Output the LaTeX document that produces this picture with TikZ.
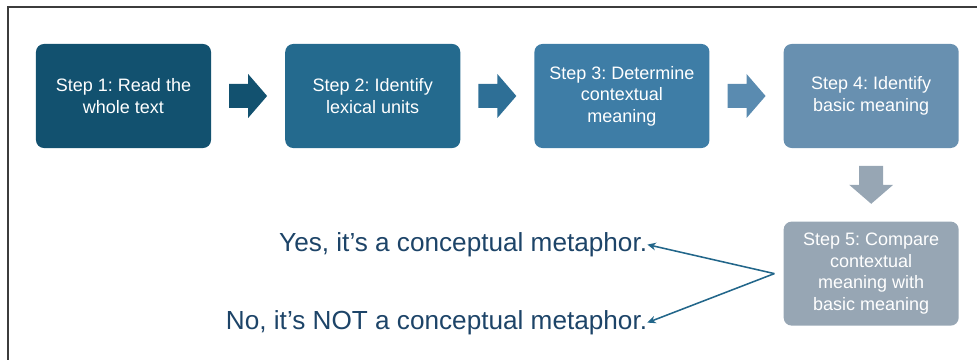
\documentclass[tikz,border=0pt]{standalone}
\usepackage{fontspec}
\setmainfont{Liberation Sans}
\usetikzlibrary{calc,arrows.meta,positioning}
\frenchspacing
\definecolor{stepA}{HTML}{12516F}
\definecolor{stepB}{HTML}{246A8E}
\definecolor{stepC}{HTML}{3E7DA6}
\definecolor{stepD}{HTML}{6890B0}
\definecolor{stepE}{HTML}{97A6B4}
\definecolor{flowB}{HTML}{2E6F96}
\definecolor{flowC}{HTML}{5A8BB0}
\definecolor{answerblue}{HTML}{1D4468}
\definecolor{linkteal}{HTML}{22668A}
\definecolor{framegray}{HTML}{3C3C3C}

\begin{document}
\begin{tikzpicture}[x=0.025cm, y=0.025cm]
  \tikzset{%
    stepbox/.style={rounded corners=0.2cm, minimum width=4.375cm,%
      minimum height=2.6cm, inner sep=0pt, align=center, text=white,%
      font=\fontsize{12.8}{15.2}\selectfont},%
    answer/.style={anchor=east, inner sep=0pt, text=answerblue,%
      font=\fontsize{18.6}{22}\selectfont},%
    link/.style={draw=linkteal, line width=1.1pt,%
      -{Stealth[length=6pt, width=5.5pt]}},%
    flow/.pic={%
      \fill (-19,-12) -- (0,-12) -- (0,-22) -- (19,0) -- (0,22) -- (0,12) -- (-19,12) -- cycle;%
    }%
  }%
  \useasboundingbox (0,0) rectangle (977,360);%

  %
  % Frame
  %
  \draw[framegray, line width=1.3pt] (8,0) -- (8,353) -- (977,353);%

  %
  % Steps
  %
  \node[stepbox, fill=stepA] (s1) at (123.5,264) {Step 1: Read the\\whole text};%
  \node[stepbox, fill=stepB, right=1.84cm of s1] (s2) {Step 2: Identify\\lexical units};%
  \node[stepbox, fill=stepC, right=1.84cm of s2] (s3) {Step 3: Determine\\contextual\\meaning};%
  \node[stepbox, fill=stepD, right=1.84cm of s3] (s4) {Step 4: Identify\\basic meaning};%
  \node[stepbox, fill=stepE, below=1.825cm of s4] (s5) {Step 5: Compare\\contextual\\meaning with\\basic meaning};%

  % Block arrows
  \path ($(s1.east)!0.5!(s2.west)$) pic[color=stepA] {flow};%
  \path ($(s2.east)!0.5!(s3.west)$) pic[color=flowB] {flow};%
  \path ($(s3.east)!0.5!(s4.west)$) pic[color=flowC] {flow};%
  \path ($(s4.south)!0.5!(s5.north)$) pic[color=stepE, rotate=-90] {flow};%

  %
  % Answers
  %
  \coordinate[left=0.225cm of s5] (fork);%
  \path (fork) ++(-127,29) node[answer] (yes) {Yes, it’s a conceptual metaphor.};%
  \path (fork) ++(-127,-49) node[answer] (no) {No, it’s NOT a conceptual metaphor.};%
  \draw[link] (fork) -- (yes.east);%
  \draw[link] (fork) -- (no.east);%
\end{tikzpicture}
\end{document}
